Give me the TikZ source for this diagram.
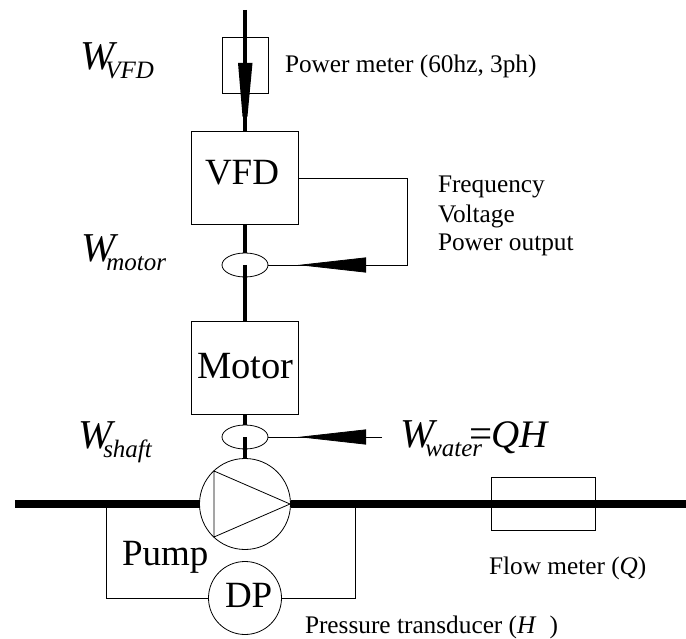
\documentclass[tikz,border=0pt]{standalone}
\usepackage{fontspec}
\setmainfont{Liberation Serif}
\usepackage{tikz}
\usetikzlibrary{arrows.meta,shapes.geometric}
\newcommand{\bigsize}{\fontsize{37}{37}\selectfont}
\newcommand{\smallsize}{\fontsize{25.3}{25.3}\selectfont}
\newcommand{\powerlabel}[1]{\fontsize{41}{41}\selectfont\textit{W}\kern-12pt\raisebox{-9pt}{\fontsize{25}{25}\selectfont\textit{#1}}}
\tikzset{
	devbox/.style={draw,line width=.8pt,inner sep=0,outer sep=0},
	roundel/.style={devbox,circle},
	sensor/.style={draw,line width=.8pt,ellipse,inner sep=0,outer sep=0,minimum width=46pt,minimum height=24pt},
	shaft/.style={line width=4.7pt},
	pipe/.style={line width=7.5pt},
	wire/.style={line width=.8pt},
	bigtip/.style={-{Triangle[length=68pt,width=15pt]},line width=.8pt},
	lab/.style={anchor=base west,inner sep=0,outer sep=0,font=\smallsize},
	biglab/.style={lab,font=\bigsize},
	powerlab/.style={anchor=base west,inner sep=0,outer sep=0}
}
\begin{document}
\begin{tikzpicture}[x=1pt,y=-1pt]
	\useasboundingbox (0,0) rectangle (686,639);
	\coordinate (Top) at (245,10);
	\coordinate (PipeLeft) at (15,504);
	\coordinate (PipeRight) at (686,504);
	\coordinate (TapLeft) at (106,504);
	\coordinate (TapRight) at (355,504);
	\coordinate (CornerLeft) at (106,598);
	\coordinate (CornerRight) at (355,598);
	\coordinate (FeedA) at (407,178);
	\coordinate (FeedB) at (407,265);
	\coordinate (FeedC) at (366,265);
	\coordinate (FeedD) at (298,265);
	\coordinate (WaterA) at (382,437);
	\coordinate (WaterB) at (298,437);
	\coordinate (TriA) at (214,471);
	\coordinate (TriB) at (214,537);
	\coordinate (TriC) at (290,504);

	\node[devbox,minimum width=46pt,minimum height=56pt] (PowerMeter) at (245,65) {};
	\node[devbox,minimum width=106.5pt,minimum height=93pt] (VFD) at (245,177.5) {};
	\node[devbox,minimum width=106.5pt,minimum height=93pt] (Motor) at (245,367.5) {};
	\node[sensor] (SensorMotor) at (245,265) {};
	\node[sensor] (SensorShaft) at (245,437) {};
	\node[roundel,minimum size=91pt] (Pump) at (245,504) {};
	\node[roundel,minimum size=73pt] (DP) at (245,598) {};
	\node[devbox,minimum width=104pt,minimum height=53pt] (FlowMeter) at (543,503.5) {};

	\draw[shaft] (Top)--(VFD.north);
	\fill (238,63)--(252.5,63)--(247.4,117)--(242.6,117)--cycle;
	\draw[shaft] (VFD.south)--(SensorMotor.north);
	\draw[shaft] (SensorMotor.center)--(Motor.north);
	\draw[shaft] (Motor.south)--(SensorShaft.north);
	\draw[shaft] (SensorShaft.center)--(Pump.north);
	\draw[pipe] (PipeLeft)--(Pump.west);
	\draw[pipe] (Pump.east)--(PipeRight);

	\draw[wire] (VFD.east|-FeedA)--(FeedA)--(FeedB)--(SensorMotor.east);
	\draw[bigtip] (FeedC)--(FeedD);
	\draw[wire] (WaterA)--(SensorShaft.east);
	\draw[bigtip] ([xshift=-16pt]WaterA)--(WaterB);
	\draw[wire] (TapLeft)--(CornerLeft)--(DP.west);
	\draw[wire] (TapRight)--(CornerRight)--(DP.east);
	\draw[wire,line join=round] (TriA)--(TriB)--(TriC)--cycle;

	\node[powerlab] (WVFD) at (80,70) {\powerlabel{VFD}};
	\node[powerlab] (WMotor) at (81,262) {\powerlabel{motor}};
	\node[powerlab] (WShaft) at (78,448) {\powerlabel{shaft}};
	\node[powerlab] (WWater) at (400,447) {\powerlabel{water}\kern-13pt=\kern-1pt{\fontsize{39}{39}\selectfont\textit{QH}}};
	\node[biglab] (VFDLabel) at (205,185) {VFD};
	\node[biglab,font=\fontsize{38.5}{38.5}\selectfont] (MotorLabel) at (197,378) {Motor};
	\node[biglab] (PumpLabel) at (122,565) {Pump};
	\node[biglab] (DPLabel) at (225,607) {DP};
	\node[lab] (PowerText) at (285,73) {Power meter (60hz, 3ph)};
	\node[lab] (FreqText) at (438,193) {Frequency};
	\node[lab] (VoltText) at (438,223) {Voltage};
	\node[lab] (OutText) at (438,251) {Power output};
	\node[lab] (FlowText) at (489,574) {Flow meter (\textit{Q})};
	\node[lab] (PressText) at (305,633) {Pressure transducer (\textit{H}\kern13pt)};
\end{tikzpicture}
\end{document}
